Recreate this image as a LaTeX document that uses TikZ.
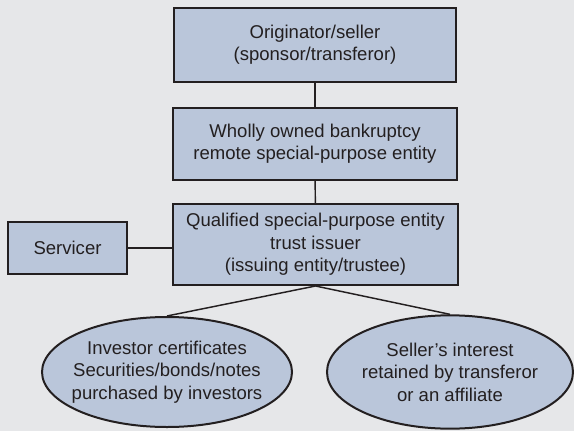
\documentclass[tikz,border=0pt]{standalone}
\usepackage{fontspec}
\setmainfont{Liberation Sans}
\usepackage{tikz}
\usetikzlibrary{shapes.geometric}
\definecolor{secbg}{RGB}{230,231,233}
\definecolor{secblue}{RGB}{186,198,218}
\definecolor{secblack}{RGB}{35,31,32}

\begin{document}
\begin{tikzpicture}[x=0.75pt,y=-0.75pt,
    box/.style={draw=secblack, fill=secblue, text=secblack, line width=1.5pt,%
        align=center, inner sep=0pt, font=\fontsize{13.9}{16.8}\selectfont},
    oval/.style={box, ellipse, inner xsep=-8pt},
    link/.style={secblack, line width=1.1pt}]
    % Background
    \fill[secbg] (0,0) rectangle (574,431);

    % Boxes
    \node[box, minimum width=211.5pt, minimum height=55.5pt] (orig) at (315,45)
        {Originator/seller\\(sponsor/transferor)};
    \node[box, minimum width=213pt, minimum height=54pt] (spe) at (315,144)
        {Wholly owned bankruptcy\\remote special-purpose entity};
    \node[box, minimum width=213.75pt, minimum height=60.75pt] (qspe) at (315.5,244.5)
        {Qualified special-purpose entity\\trust issuer\\(issuing entity/trustee)};
    \node[box, minimum width=89.25pt, minimum height=39pt] (serv) at (67.5,248)
        {Servicer};

    % Ovals
    \node[oval, minimum width=187.5pt, minimum height=82.5pt] (inv) at (167,372)
        {Investor certificates\\Securities/bonds/notes\\purchased by investors};
    \node[oval, minimum width=184.5pt, minimum height=85pt] (sell) at (450,372)
        {Seller’s interest\\retained by transferor\\or an affiliate};

    % Links
    \draw[link] (orig) -- (spe);
    \draw[link] (spe) -- (qspe);
    \draw[link] (serv.east) -- (serv.east -| qspe.west);
    \draw[link] (qspe.south) -- (inv.north);
    \draw[link] (qspe.south) -- (sell.north);
\end{tikzpicture}
\end{document}
